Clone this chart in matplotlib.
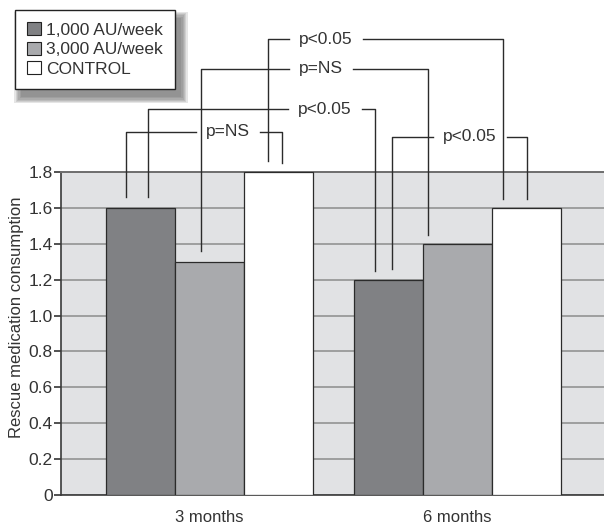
import matplotlib.pyplot as plt
import numpy as np
from matplotlib.patches import Patch, Rectangle

plt.rcParams['font.family'] = ['Liberation Sans', 'DejaVu Sans']

groups = ['3 months', '6 months']
series = ['1,000 AU/week', '3,000 AU/week', 'CONTROL']
values = [
    [1.6, 1.2],   # 1,000 AU/week
    [1.3, 1.4],   # 3,000 AU/week
    [1.8, 1.6],   # CONTROL
]
colors = ['#808184', '#a9aaad', '#ffffff']

# brackets: (group, series, offset) at each end, bracket level, label, label x
brackets = [
    ((0, 2, -0.043), (1, 2, -0.096), 2.54, 'p<0.05', 0.469),
    ((0, 1, -0.034), (1, 1, -0.119), 2.375, 'p=NS', 0.45),
    ((0, 0, 0.031), (1, 0, -0.055), 2.15, 'p<0.05', 0.466),
    ((0, 0, -0.06), (0, 2, 0.013), 2.025, 'p=NS', 0.075),
    ((1, 0, 0.013), (1, 2, 0.001), 1.997, 'p<0.05', 1.05),
]

txt = '#333333'
w = 0.278
x = np.arange(len(groups))

fig = plt.figure(figsize=(6.04, 5.26), dpi=100)
ax = fig.add_axes([61 / 604, 31 / 526, 543 / 604, 323 / 526])
ax.set_facecolor('#e1e2e4')

for i, vals in enumerate(values):
    ax.bar(x + (i - 1) * w, vals, width=w, color=colors[i], edgecolor='#2b2b2b',
           linewidth=0.9, zorder=3)

ax.set_xlim(-0.599, 1.591)
ax.set_ylim(0, 1.8)
ax.set_yticks(np.arange(0, 1.81, 0.2))
ax.set_yticklabels(['0'] + ['%.1f' % v for v in np.arange(0.2, 1.81, 0.2)])
ax.yaxis.grid(True, color='#8c8c8c', linewidth=1.1)
ax.set_axisbelow(True)
ax.set_xticks(x)
ax.set_xticklabels(groups)
ax.tick_params(axis='x', length=0, pad=10.5, labelsize=12, labelcolor=txt)
ax.tick_params(axis='y', length=5, width=1.2, color='#333333', pad=1,
               labelsize=12.5, labelcolor=txt)
for s in ['left', 'bottom']:
    ax.spines[s].set_color('#3a3a3a')
    ax.spines[s].set_linewidth(1.2)
ax.spines['top'].set_color('#6e6e6e')
ax.spines['top'].set_linewidth(1.4)
ax.spines['right'].set_visible(False)
ax.set_ylabel('Rescue medication consumption', fontsize=12, color=txt)
ax.yaxis.set_label_coords(-0.068, 0.55)

# significance brackets
for a, b, level, label, tx in brackets:
    xa = x[a[0]] + (a[1] - 1) * w + a[2]
    xb = x[b[0]] + (b[1] - 1) * w + b[2]
    ya = values[a[1]][a[0]] + 0.06
    yb = values[b[1]][b[0]] + 0.05
    half = 0.148 if '<' in label else 0.128
    kw = dict(color='#2b2b2b', linewidth=1.0, clip_on=False, zorder=4)
    ax.plot([xa, xa, tx - half], [ya, level, level], **kw)
    ax.plot([tx + half, xb, xb], [level, level, yb], **kw)
    ax.text(tx, level, label, ha='center', va='center', fontsize=12.5,
            color=txt, clip_on=False)

handles = [Patch(facecolor=c, edgecolor='#222222', linewidth=0.8) for c in colors]
leg = fig.legend(handles, series, loc='upper left',
                 bbox_to_anchor=(15 / 604, 1 - 10 / 526), borderaxespad=0,
                 fontsize=12.5, handlelength=0.8, handleheight=0.8,
                 handletextpad=0.3, labelspacing=0.22, borderpad=0.7,
                 fancybox=False, framealpha=1, edgecolor='#222222')
for t in leg.get_texts():
    t.set_color(txt)
leg.get_frame().set_linewidth(1.0)
leg.set_zorder(10)

# soft drop shadow behind the legend
fig.canvas.draw()
bb = leg.get_window_extent().transformed(fig.transFigure.inverted())
for k in range(6):
    grow = k * 1.3
    r = Rectangle((bb.x0 + (6 - grow) / 604, bb.y0 - (8 + grow) / 526),
                  bb.width + 2 * grow / 604, bb.height + 2 * grow / 526,
                  transform=fig.transFigure, facecolor='#555555',
                  edgecolor='none', alpha=0.15, zorder=5)
    fig.patches.append(r)

fig.savefig('out.png', dpi=100)
